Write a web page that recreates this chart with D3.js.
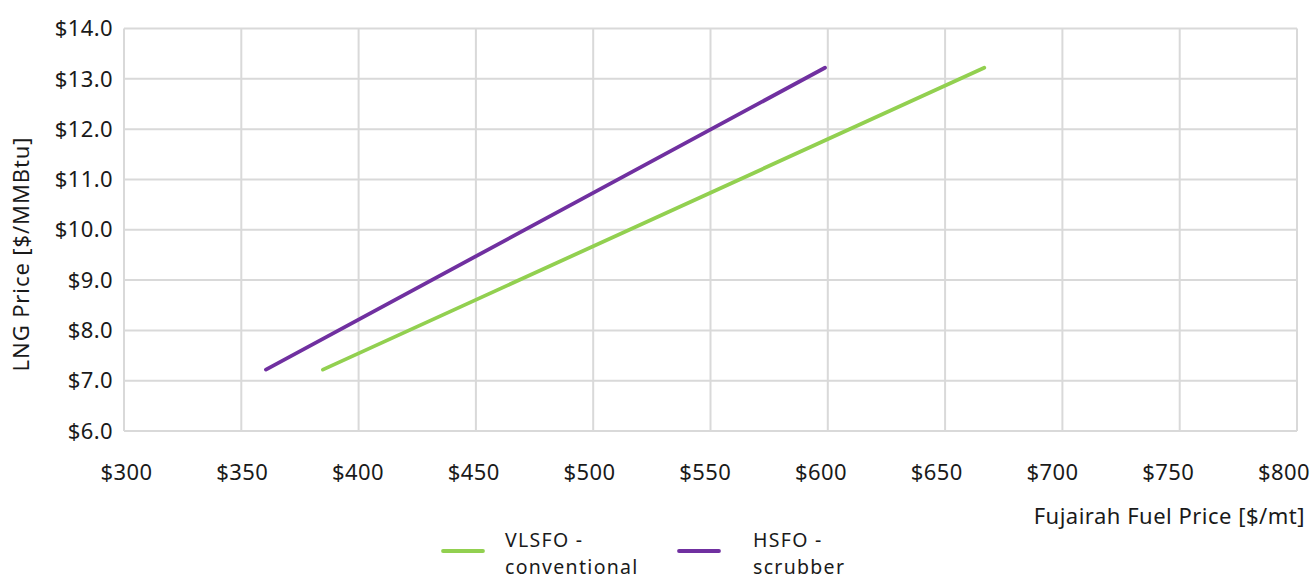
<!DOCTYPE html>
<html><head><meta charset="utf-8">
<script src="https://cdn.jsdelivr.net/npm/d3@7"></script>
<style>body{margin:0;background:#fff}svg{display:block}text{font-family:"Noto Sans",Lato,sans-serif;fill:#1a1a1a}</style>
</head><body><svg id="c" width="1315" height="581"></svg>
<script>
const xTicks = [300,350,400,450,500,550,600,650,700,750,800];
const yTicks = [6,7,8,9,10,11,12,13,14];
const seriesNames = ["VLSFO - conventional","HSFO - scrubber"];
const vlsfoFuel = [384.8, 666.7];
const vlsfoLng = [7.22, 13.22];
const hsfoFuel = [360.5, 598.8];
const hsfoLng = [7.22, 13.22];
const colors = ["#92d050","#7030a0"];

const svg = d3.select("#c");
const x = d3.scaleLinear().domain([300,800]).range([124,1297]);
const xl = d3.scaleLinear().domain([300,800]).range([126.5,1284]);
const y = d3.scaleLinear().domain([6,14]).range([431,28.5]);

const g = svg.append("g");
g.selectAll(".vg").data(xTicks).join("line")
 .attr("x1",d=>x(d)).attr("x2",d=>x(d)).attr("y1",y(6)).attr("y2",y(14))
 .attr("stroke","#d9d9d9").attr("stroke-width",2);
g.selectAll(".hg").data(yTicks).join("line")
 .attr("x1",x(300)).attr("x2",x(800)).attr("y1",d=>y(d)).attr("y2",d=>y(d))
 .attr("stroke","#d9d9d9").attr("stroke-width",2);

g.selectAll(".yt").data(yTicks).join("text")
 .attr("x",113).attr("y",d=>y(d)).attr("dy","0.35em").attr("text-anchor","end")
 .attr("font-size",22).attr("letter-spacing",0.4).text(d=>"$"+d.toFixed(1));
g.selectAll(".xt").data(xTicks).join("text")
 .attr("x",d=>xl(d)).attr("y",480).attr("text-anchor","middle")
 .attr("font-size",22).attr("letter-spacing",0.4).text(d=>"$"+d);

svg.append("text").attr("transform","translate(29,254) rotate(-90)")
 .attr("text-anchor","middle").attr("font-size",22).attr("letter-spacing",0.9).text("LNG Price [$/MMBtu]");
svg.append("text").attr("x",1305).attr("y",524).attr("text-anchor","end")
 .attr("font-size",22).attr("letter-spacing",0.5).text("Fujairah Fuel Price [$/mt]");

const line = d3.line().x(d=>x(d[0])).y(d=>y(d[1]));
const data = [d3.zip(vlsfoFuel,vlsfoLng), d3.zip(hsfoFuel,hsfoLng)];
data.forEach((d,i)=>{
  svg.append("path").attr("d",line(d)).attr("fill","none")
   .attr("stroke",colors[i]).attr("stroke-width",3.8).attr("stroke-linecap","round");
});

const leg = [{x:443,tx:505,lines:["VLSFO -","conventional"]},{x:679,tx:753,lines:["HSFO -","scrubber"]}];
leg.forEach((l,i)=>{
  svg.append("line").attr("x1",l.x).attr("x2",l.x+40).attr("y1",551).attr("y2",551)
   .attr("stroke",colors[i]).attr("stroke-width",3.8).attr("stroke-linecap","round");
  const t = svg.append("text").attr("x",l.tx).attr("y",547).attr("font-size",19.5).attr("letter-spacing",1.3);
  l.lines.forEach((s,j)=>t.append("tspan").attr("x",l.tx).attr("dy",j?26.6:0).text(s));
});
</script></body></html>
